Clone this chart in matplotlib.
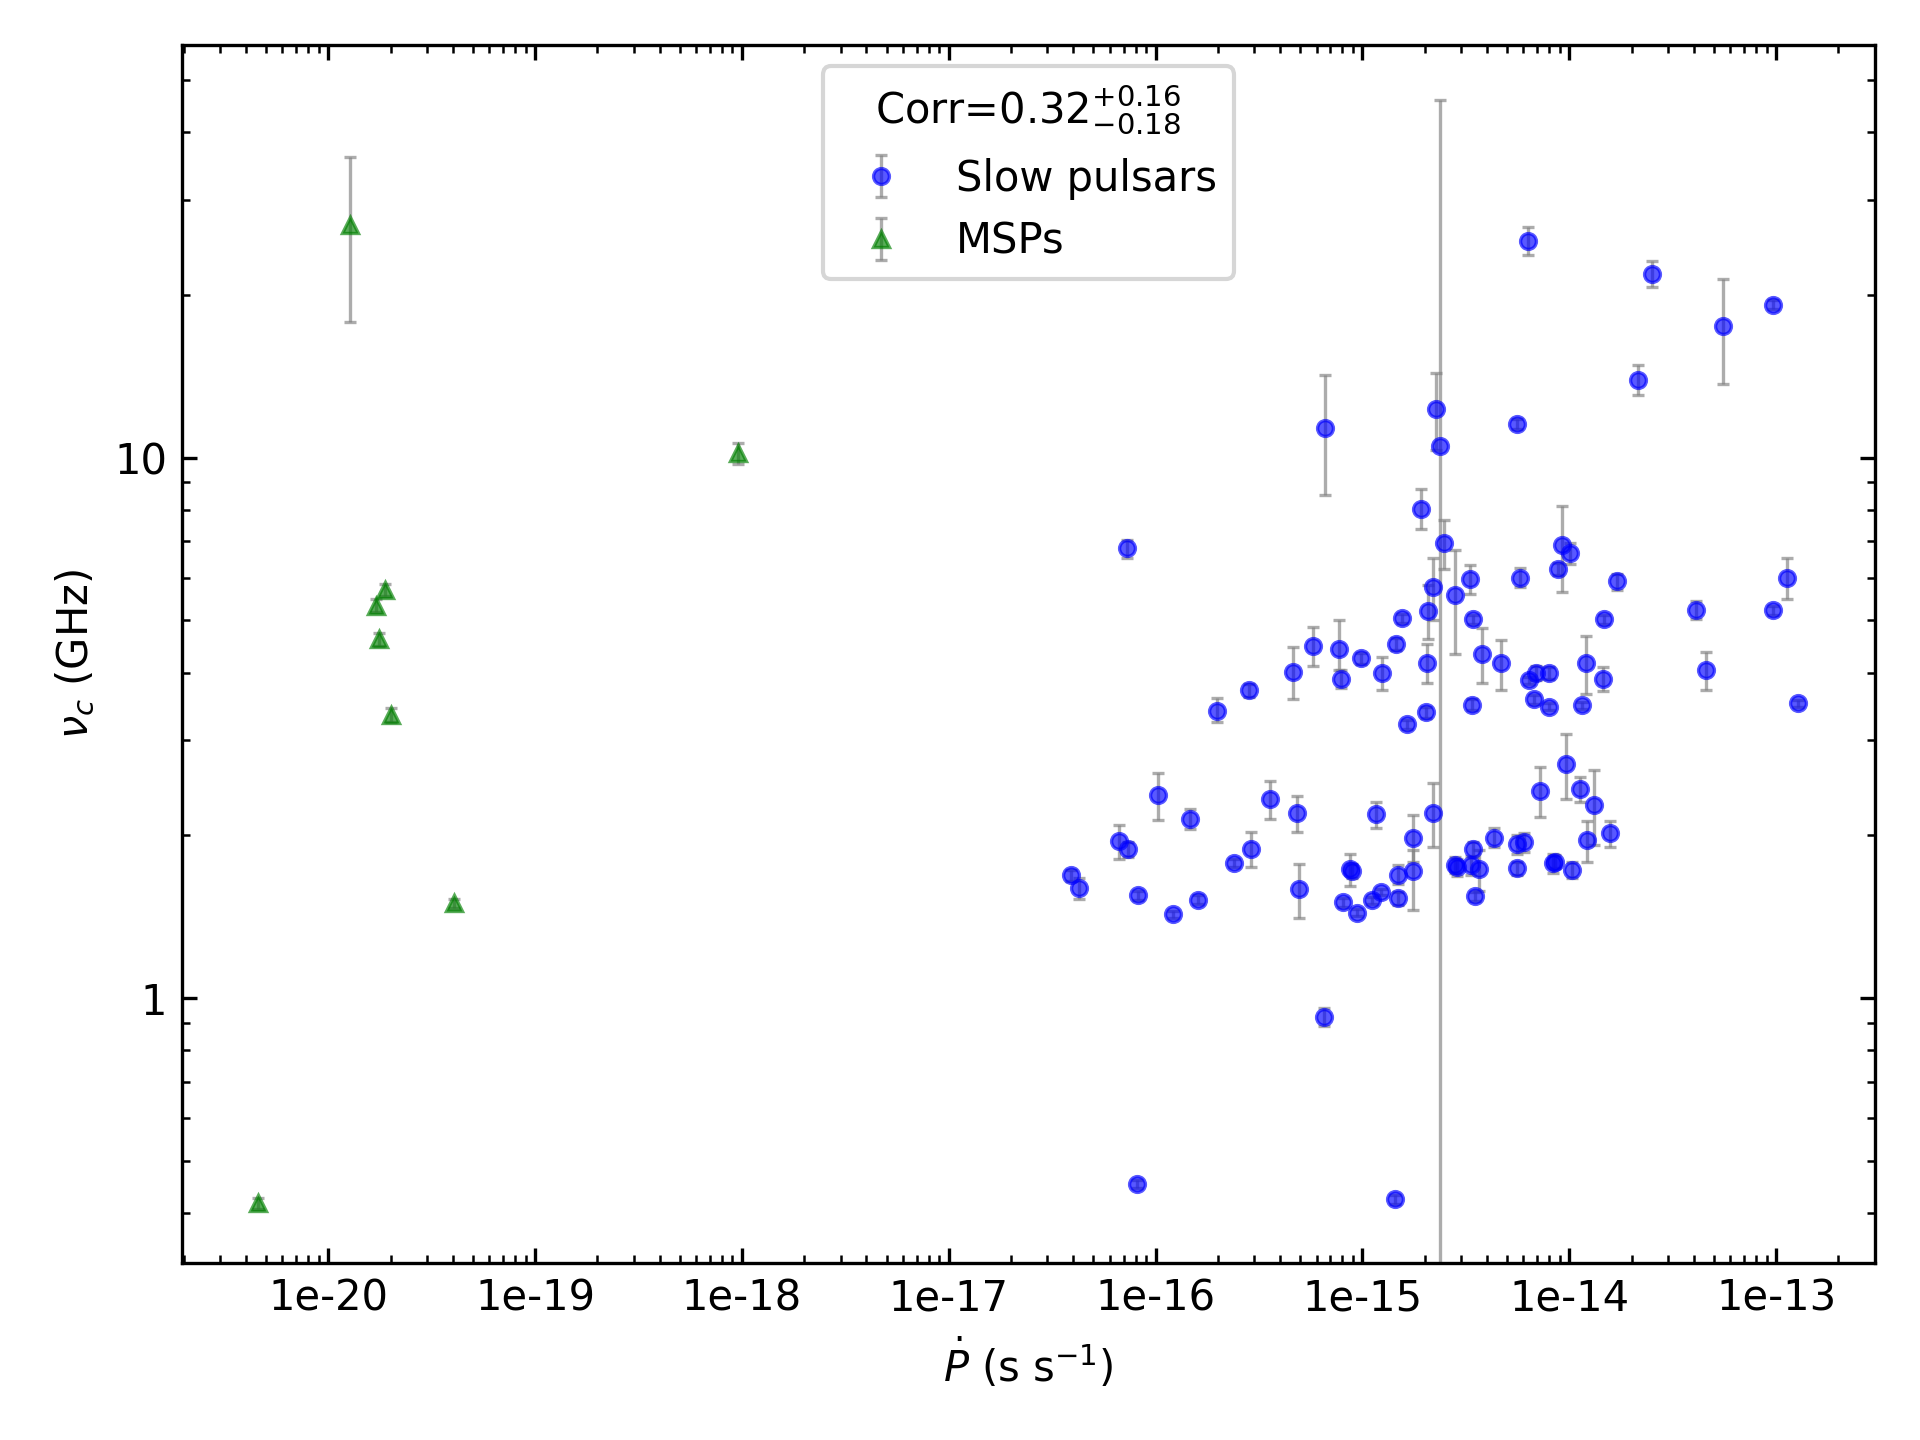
import matplotlib
matplotlib.use('Agg')
import matplotlib.pyplot as plt
from matplotlib.ticker import FuncFormatter, NullFormatter

# slow pulsars: Pdot (s/s), turnover frequency nu_c (GHz), lower / upper errors
slow_pdot = [7.26e-17, 6.62e-16, 2.28e-15, 2.38e-15, 1.93e-15, 2.47e-15, 3.33e-15, 2.20e-15,
             2.79e-15, 2.08e-15, 1.56e-15, 3.43e-15, 3.80e-15, 4.70e-15, 1.46e-15, 2.06e-15,
             1.25e-15, 9.89e-16, 7.74e-16, 7.84e-16, 5.79e-16, 4.63e-16, 2.84e-16, 1.99e-16,
             2.04e-15, 1.65e-15, 3.40e-15,
             3.90e-17, 4.28e-17, 6.68e-17, 7.38e-17, 8.26e-17, 1.03e-16, 1.21e-16, 1.47e-16,
             1.61e-16, 2.40e-16, 2.90e-16, 3.59e-16, 4.80e-16, 4.95e-16, 6.55e-16, 8.04e-16,
             8.73e-16, 8.91e-16, 9.46e-16, 1.11e-15, 1.16e-15, 1.23e-15, 1.49e-15, 1.49e-15,
             1.75e-15, 1.75e-15, 2.20e-15, 1.44e-15, 8.17e-17, 2.81e-15, 2.88e-15, 3.34e-15,
             3.44e-15, 3.66e-15, 3.52e-15, 4.35e-15,
             6.40e-15, 6.87e-15, 8.02e-15, 1.20e-14, 1.45e-14, 4.60e-14, 6.72e-15, 8.02e-15,
             1.15e-14, 1.28e-13, 7.26e-15, 9.68e-15, 1.13e-14, 1.31e-14, 5.58e-15, 6.03e-15,
             1.22e-14, 1.58e-14, 5.56e-15, 8.30e-15, 8.57e-15, 1.03e-14,
             6.35e-15, 2.52e-14, 5.51e-14, 9.62e-14, 2.16e-14, 5.56e-15, 5.81e-15, 8.87e-15,
             9.27e-15, 1.01e-14, 1.71e-14, 1.48e-14, 4.09e-14, 9.68e-14, 1.13e-13]
slow_nu = [6.79, 11.36, 12.32, 10.51, 8.05, 6.96, 5.97, 5.75,
           5.56, 5.21, 5.04, 5.02, 4.33, 4.16, 4.52, 4.16,
           3.99, 4.25, 4.42, 3.90, 4.49, 4.02, 3.71, 3.40,
           3.38, 3.21, 3.49,
           1.686, 1.596, 1.951, 1.886, 1.549, 2.374, 1.428, 2.149,
           1.522, 1.775, 1.886, 2.331, 2.196, 1.589, 0.922, 1.503,
           1.730, 1.718, 1.440, 1.516, 2.187, 1.571, 1.693, 1.529,
           1.982, 1.718, 2.196, 0.4243, 0.4529, 1.762, 1.745, 1.762,
           1.886, 1.730, 1.544, 1.982,
           3.87, 4.00, 4.00, 4.16, 3.90, 4.05, 3.57, 3.46,
           3.48, 3.51, 2.412, 2.706, 2.432, 2.272, 1.924, 1.941,
           1.957, 2.017, 1.738, 1.775, 1.787, 1.725,
           25.16, 21.89, 17.54, 19.19, 13.94, 11.56, 6.00, 6.22,
           6.88, 6.65, 5.90, 5.02, 5.22, 5.22, 5.98]
slow_err_lo = [0.28, 2.82, 2.01, 10.4, 0.66, 0.75, 0.37, 0.75,
               1.22, 0.60, 0.10, 0.10, 0.51, 0.44, 0.12, 0.34,
               0.27, 0.10, 0.38, 0.15, 0.37, 0.44, 0.10, 0.16,
               0.08, 0.06, 0.08,
               0.04, 0.07, 0.14, 0.06, 0.03, 0.24, 0.02, 0.09,
               0.03, 0.03, 0.14, 0.19, 0.17, 0.18, 0.035, 0.03,
               0.12, 0.05, 0.02, 0.02, 0.12, 0.02, 0.07, 0.04,
               0.20, 0.26, 0.29, 0.008, 0.008, 0.06, 0.06, 0.07,
               0.06, 0.15, 0.03, 0.08,
               0.06, 0.12, 0.10, 0.50, 0.20, 0.33, 0.07, 0.05,
               0.05, 0.05, 0.25, 0.37, 0.13, 0.35, 0.08, 0.08,
               0.17, 0.11, 0.05, 0.07, 0.05, 0.06,
               1.46, 1.21, 3.83, 0.35, 0.86, 0.25, 0.25, 0.15,
               1.24, 0.30, 0.20, 0.10, 0.20, 0.10, 0.51]
slow_err_hi = [0.26, 2.88, 2.04, 35.4, 0.68, 0.72, 0.37, 0.78,
               1.20, 0.60, 0.10, 0.10, 0.50, 0.43, 0.12, 0.36,
               0.29, 0.10, 0.58, 0.15, 0.37, 0.44, 0.10, 0.19,
               0.08, 0.06, 0.08,
               0.04, 0.07, 0.14, 0.06, 0.03, 0.24, 0.02, 0.09,
               0.03, 0.03, 0.14, 0.19, 0.17, 0.18, 0.035, 0.03,
               0.12, 0.05, 0.02, 0.02, 0.12, 0.02, 0.07, 0.04,
               0.20, 0.16, 0.30, 0.008, 0.008, 0.06, 0.06, 0.07,
               0.06, 0.15, 0.03, 0.08,
               0.06, 0.12, 0.10, 0.51, 0.20, 0.31, 0.07, 0.05,
               0.05, 0.05, 0.26, 0.37, 0.13, 0.37, 0.08, 0.08,
               0.17, 0.11, 0.05, 0.07, 0.05, 0.06,
               1.54, 1.18, 3.89, 0.35, 0.87, 0.25, 0.25, 0.15,
               1.25, 0.30, 0.20, 0.10, 0.20, 0.10, 0.53]

# millisecond pulsars
msp_pdot = [1.27e-20, 1.88e-20, 1.70e-20, 1.76e-20, 2.01e-20, 4.04e-20, 4.56e-21, 9.62e-19]
msp_nu = [26.9, 5.69, 5.32, 4.61, 3.34, 1.497, 0.417, 10.2]
msp_err = [9.1, 0.15, 0.15, 0.12, 0.10, 0.03, 0.01, 0.45]

x_ticks = [1e-20, 1e-19, 1e-18, 1e-17, 1e-16, 1e-15, 1e-14, 1e-13]
y_ticks = [1, 10]

fig = plt.figure(figsize=(6.4, 4.8), dpi=300)
ax = fig.add_subplot(111)
fig.subplots_adjust(left=0.0946, right=0.9766, bottom=0.1227, top=0.9685)

ax.errorbar(slow_pdot, slow_nu, yerr=[slow_err_lo, slow_err_hi], fmt='o', color='blue',
            ms=3.8, mew=0.8, ecolor='gray', elinewidth=0.8, capsize=1.5, alpha=0.65,
            label='Slow pulsars')
ax.errorbar(msp_pdot, msp_nu, yerr=msp_err, fmt='^', color='green',
            ms=4.0, mew=0.8, ecolor='gray', elinewidth=0.8, capsize=1.5, alpha=0.65,
            label='MSPs')

ax.set_xscale('log')
ax.set_yscale('log')
ax.set_xticks(x_ticks)
ax.set_yticks(y_ticks)
ax.set_xlim(1.954e-21, 3.01e-13)
ax.set_ylim(0.3231, 57.9)

ax.xaxis.set_major_formatter(FuncFormatter(lambda v, p: '{:.0e}'.format(v)))
ax.xaxis.set_minor_formatter(NullFormatter())
ax.yaxis.set_major_formatter(FuncFormatter(lambda v, p: '{:g}'.format(v)))
ax.yaxis.set_minor_formatter(NullFormatter())
ax.tick_params(which='both', direction='in', top=True, right=True)

ax.set_xlabel(r'$\dot{P}$ (s s$^{-1}$)')
ax.set_ylabel(r'$\nu_c$ (GHz)')
ax.legend(loc='upper center', title=r'Corr=$0.32^{+0.16}_{-0.18}$')

fig.savefig('out.png', dpi=300)
